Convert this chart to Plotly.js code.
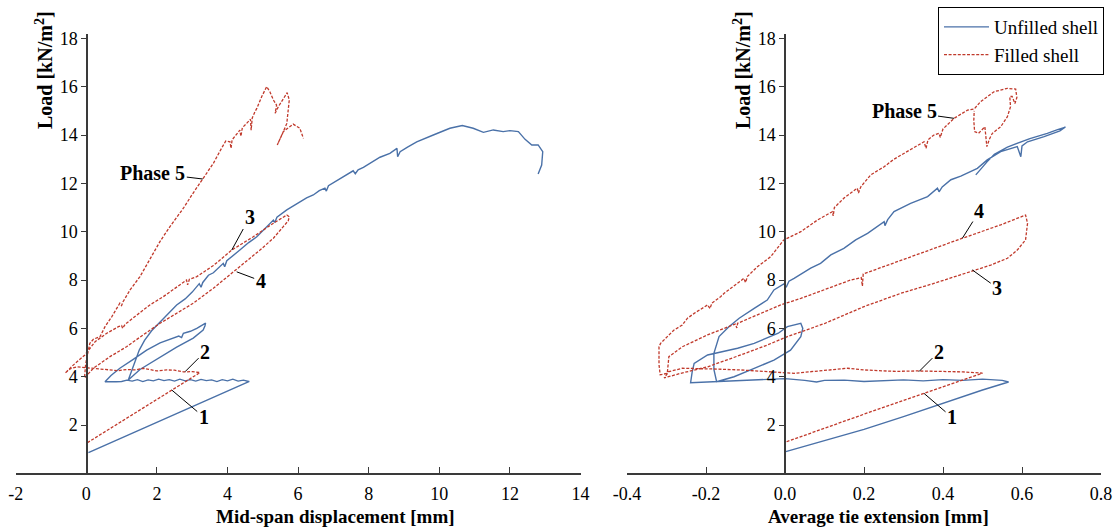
<!DOCTYPE html>
<html><head><meta charset="utf-8">
<script src="https://cdn.plot.ly/plotly-3.0.1.min.js"></script>
<style>html,body{margin:0;padding:0;background:#fff}#chart{width:1115px;height:529px}</style>
</head><body><div id="chart"></div><script>
// ---------- Left panel: Load vs mid-span displacement ----------
const dispUnfilledX = [].concat(
  [0.06,1.0,2.0,3.0,4.0,4.62],
  [4.6,4.45,4.3,4.15,4.0,3.85,3.7,3.55,3.4,3.25,3.1,2.95,2.8,2.65,2.5,2.35,2.2,2.05,1.9,1.75,1.6,1.45,1.3,1.15,1.0,0.85,0.7,0.53],
  [0.7,0.95,1.33,1.71,2.09,2.4,2.62,2.7,2.75,2.95,3.13,3.38],
  [3.36,3.31,3.03,2.56,1.99,1.52,1.19],
  [1.25,1.38,1.5,1.65,1.85,2.05,2.3,2.56,2.8,3.0,3.2,3.25,3.3,3.46,3.6,3.88,3.92,3.98,4.35,4.6,4.83,5.1,5.3,5.34,5.4,5.68,6.0,6.24,6.43,6.6,6.76,6.8,6.86,7.19,7.56,7.62,7.7,7.85,8.1,8.32,8.6,8.8,8.82,8.89,9.1,9.36,9.83,10.3,10.65,10.96,11.25,11.53,11.81,12.0,12.24,12.43,12.62,12.8,12.93,12.92,12.9,12.8]
);
const dispUnfilledY = [].concat(
  [0.86,1.47,2.11,2.76,3.41,3.81],
  [3.8,3.86,3.82,3.9,3.83,3.88,3.8,3.87,3.84,3.89,3.82,3.88,3.83,3.9,3.82,3.88,3.84,3.9,3.83,3.87,3.8,3.88,3.82,3.86,3.8,3.79,3.8,3.79],
  [4.05,4.35,4.72,5.1,5.4,5.58,5.68,5.62,5.8,5.88,6.0,6.22],
  [6.1,5.93,5.6,5.22,4.72,4.3,3.86],
  [4.1,4.69,5.1,5.5,5.9,6.2,6.6,6.97,7.22,7.5,7.85,7.7,7.9,8.2,8.3,8.69,8.55,8.8,9.24,9.55,9.79,10.2,10.48,10.38,10.6,10.9,11.2,11.4,11.52,11.7,11.8,11.68,11.9,12.2,12.52,12.4,12.56,12.66,12.9,13.08,13.24,13.45,13.1,13.31,13.5,13.72,14.0,14.28,14.39,14.28,14.11,14.21,14.14,14.18,14.14,13.82,13.59,13.59,13.31,13.0,12.76,12.39]
);
const dispFilledX = [].concat(
  [0.03,1.0,2.0,3.22],
  [3.0,2.75,2.5,2.28,2.0,1.8,1.61,1.4,1.15,0.9,0.67,0.45,0.2,0.0,-0.27,-0.45,-0.56,-0.6],
  [-0.37,-0.04,0.25,0.58,0.91,1.0,1.03,1.1,1.43,1.8,2.18,2.56,2.84,2.87,2.92,3.13,3.41,3.6,4.12,4.73,5.3,5.68],
  [5.75,5.72,5.58,5.3,4.92,4.35,3.6,3.03,2.56,2.09,1.61,1.14,0.67,0.2,-0.05],
  [-0.02,0.03,0.1,0.2,0.39,0.53,0.72,0.95,1.0,1.04,1.24,1.52,1.8,2.09,2.37,2.75,2.99,3.22,3.41,3.6,3.83,3.95,4.07,4.1,4.13,4.35,4.38,4.42,4.54,4.65,4.67,4.7,4.78,4.83,4.97,5.11,5.2,5.3,5.39,5.35,5.44,5.58,5.69,5.75,5.72,5.68,5.54,5.41,5.58,5.86,6.05,6.15]
);
const dispFilledY = [].concat(
  [1.27,2.15,3.06,4.17],
  [4.21,4.2,4.27,4.28,4.24,4.3,4.35,4.28,4.3,4.25,4.28,4.3,4.35,4.38,4.41,4.33,4.21,4.15],
  [4.48,4.9,5.45,5.8,6.07,6.12,6.0,6.17,6.55,6.97,7.31,7.72,8.0,7.8,8.03,8.14,8.41,8.6,9.24,9.79,10.35,10.69],
  [10.62,10.45,10.21,9.73,9.24,8.55,7.66,7.04,6.62,6.21,5.73,5.24,4.83,4.35,3.95],
  [4.5,4.9,5.38,5.55,5.66,6.07,6.48,7.04,6.95,7.1,7.59,8.14,8.83,9.6,10.21,10.97,11.52,12.0,12.41,12.83,13.45,13.75,13.72,13.45,13.8,14.2,13.95,14.3,14.48,14.65,14.2,14.7,14.97,15.1,15.59,16.0,15.79,15.45,15.24,14.9,15.17,15.52,15.75,15.45,14.9,14.48,14.0,13.59,14.14,14.45,14.28,13.86]
);

// ---------- Right panel: Load vs average tie extension ----------
const tieUnfilledX = [].concat(
  [0.002,0.1,0.2,0.3,0.4,0.5,0.566],
  [0.55,0.5,0.45,0.4,0.35,0.3,0.25,0.2,0.15,0.1,0.08,0.05,0.0,-0.05,-0.1,-0.15,-0.173,-0.2,-0.239],
  [-0.235,-0.23,-0.196,-0.15,-0.12,-0.078,-0.036,-0.017,0.006,0.04],
  [0.045,0.04,0.014,-0.028,-0.087,-0.129,-0.173],
  [-0.18,-0.18,-0.167,-0.142,-0.116,-0.078,-0.06,-0.045,-0.028,-0.003,0.003,0.01,0.023,0.065,0.09,0.116,0.149,0.179,0.209,0.251,0.253,0.26,0.276,0.318,0.361,0.386,0.39,0.398,0.42,0.445,0.487,0.512,0.546,0.588,0.597,0.6,0.614,0.656,0.696,0.71],
  [0.69,0.664,0.62,0.563,0.53,0.512,0.483]
);
const tieUnfilledY = [].concat(
  [0.9,1.35,1.82,2.35,2.9,3.45,3.78],
  [3.85,3.9,3.85,3.88,3.83,3.87,3.84,3.8,3.86,3.85,3.78,3.85,3.92,3.88,3.85,3.83,3.79,3.78,3.75],
  [4.2,4.55,4.9,5.08,5.18,5.38,5.66,5.8,6.07,6.21],
  [6.0,5.66,5.1,4.69,4.28,4.0,3.79],
  [4.3,4.97,5.66,6.07,6.42,6.83,7.0,7.17,7.59,7.84,7.7,7.95,8.07,8.49,8.69,9.04,9.31,9.66,9.93,10.41,10.25,10.5,10.83,11.17,11.45,11.8,11.65,11.85,12.15,12.3,12.62,12.97,13.31,13.52,13.1,13.55,13.72,13.93,14.17,14.33],
  [14.22,14.07,13.85,13.5,13.2,12.9,12.35]
);
const tieFilledX = [].concat(
  [0.004,0.1,0.2,0.3,0.4,0.5],
  [0.45,0.4,0.335,0.28,0.2,0.158,0.12,0.06,0.023,-0.03,-0.08,-0.112,-0.18,-0.26,-0.294,-0.306],
  [-0.264,-0.196,-0.112,-0.045,0.006,0.04,0.1,0.2,0.293,0.377,0.479,0.521,0.563,0.588,0.609,0.614,0.609],
  [0.546,0.449,0.377,0.268,0.198,0.196,0.193,0.166,0.04,-0.011,-0.07,-0.12,-0.122,-0.126,-0.196,-0.26,-0.294,-0.298],
  [-0.316,-0.319,-0.319,-0.315,-0.298,-0.281,-0.26,-0.247,-0.23,-0.196,-0.19,-0.185,-0.163,-0.154,-0.104,-0.1,-0.095,-0.07,-0.036,-0.003,0.04,0.082,0.12,0.122,0.125,0.15,0.183,0.186,0.192,0.217,0.251,0.276,0.318,0.352,0.357,0.362,0.377,0.39,0.393,0.4,0.428,0.462],
  [0.479,0.495,0.529,0.563,0.584,0.587,0.582,0.575,0.569,0.571,0.563,0.546,0.525,0.518,0.511,0.509,0.506,0.49,0.48,0.478,0.479]
);
const tieFilledY = [].concat(
  [1.31,1.88,2.45,3.02,3.59,4.15],
  [4.2,4.22,4.24,4.22,4.28,4.35,4.3,4.2,4.14,4.2,4.25,4.28,4.32,4.35,4.21,3.95],
  [4.14,4.41,4.9,5.31,5.66,5.86,6.2,6.9,7.45,7.86,8.42,8.62,8.9,9.24,9.66,10.35,10.69],
  [10.28,9.73,9.31,8.69,8.25,7.75,8.1,8.0,7.24,6.97,6.55,6.21,6.02,6.18,5.73,5.24,4.83,4.14],
  [4.08,4.5,5.24,5.38,5.66,5.93,6.14,6.42,6.62,6.97,6.82,7.05,7.31,7.45,8.07,7.9,8.15,8.55,8.97,9.66,10.0,10.48,10.83,10.65,11.0,11.4,11.8,11.6,11.86,12.35,12.69,13.0,13.4,13.72,13.45,13.8,14.0,14.07,13.9,14.25,14.69,15.03],
  [15.08,15.38,15.79,15.93,15.9,15.55,15.3,15.6,15.59,15.17,14.76,14.34,14.07,13.85,13.52,13.9,14.34,14.07,14.14,14.6,15.0]
);

// ---------- Ticks and labels ----------
const dispTickVals = [-2,0,2,4,6,8,10,12,14];
const dispTickText = ['-2','0','2','4','6','8','10','12','14'];
const tieTickVals = [-0.4,-0.2,0,0.2,0.4,0.6,0.8];
const tieTickText = ['-0.4','-0.2','0.0','0.2','0.4','0.6','0.8'];
const loadTickVals = [2,4,6,8,10,12,14,16,18];
const loadTickText = ['2','4','6','8','10','12','14','16','18'];
const seriesNames = ['Unfilled shell','Filled shell'];
const xTitles = ['Mid-span displacement [mm]','Average tie extension [mm]'];
const yTitle = 'Load [kN/m<sup>2</sup>]';

// ---------- Styling ----------
const FONT = 'Liberation Serif, Times New Roman, serif';
const BLUE = '#4a71a8';
const RED = '#c0392b';
const AXC = '#3a3a3a';
const W = 1115, H = 529;
const px = v => v / W, py = v => 1 - v / H;

const blueLine = {color: BLUE, width: 1.4};
const redLine = {color: RED, width: 1.3, dash: '3px,1.6px'};

const traces = [
  {x: dispUnfilledX, y: dispUnfilledY, mode: 'lines', name: seriesNames[0], line: blueLine, xaxis: 'x', yaxis: 'y'},
  {x: dispFilledX, y: dispFilledY, mode: 'lines', name: seriesNames[1], line: redLine, xaxis: 'x', yaxis: 'y'},
  {x: tieUnfilledX, y: tieUnfilledY, mode: 'lines', name: seriesNames[0], line: blueLine, xaxis: 'x2', yaxis: 'y2', showlegend: false},
  {x: tieFilledX, y: tieFilledY, mode: 'lines', name: seriesNames[1], line: redLine, xaxis: 'x2', yaxis: 'y2', showlegend: false}
];

const tickFont = {family: FONT, size: 18, color: '#000'};
function xAx(domain, range, vals, text, anchor) {
  return {domain, range, anchor, tickmode: 'array', tickvals: vals, ticktext: text,
    ticks: 'inside', ticklen: 6, tickwidth: 1, tickcolor: AXC, showline: true, linecolor: AXC, linewidth: 1.2,
    showgrid: false, zeroline: false, tickfont: tickFont, ticklabelstandoff: 4, automargin: false, fixedrange: true};
}
function yAx(position) {
  return {domain: [py(473.4), py(33.5)], range: [0, 18.2], anchor: 'free', position,
    tickmode: 'array', tickvals: loadTickVals, ticktext: loadTickText,
    ticks: 'outside', ticklen: 5, tickwidth: 1, tickcolor: AXC, showline: true, linecolor: AXC, linewidth: 1.2,
    showgrid: false, zeroline: false, tickfont: tickFont, automargin: false, fixedrange: true};
}

const labelFont = {family: FONT, size: 20, color: '#000'};
function lab(text, x, y, ax, ay, xr, yr) {
  return {text: '<b>' + text + '</b>', x, y, xref: xr, yref: yr, ax, ay, showarrow: true,
    arrowhead: 0, arrowwidth: 1, arrowcolor: '#000', font: labelFont, standoff: 0, startstandoff: 0};
}
const titleFont = {family: FONT, size: 19, color: '#000'};
const annotations = [
  lab('Phase 5', 3.3, 12.18, -50, -6, 'x', 'y'),
  lab('3', 4.12, 9.24, 18, -33, 'x', 'y'),
  lab('4', 4.26, 8.34, 24, 9, 'x', 'y'),
  lab('2', 2.8, 4.21, 20, -20, 'x', 'y'),
  lab('1', 2.42, 3.45, 32, 27, 'x', 'y'),
  lab('Phase 5', 0.428, 14.69, -50, -7, 'x2', 'y2'),
  lab('4', 0.449, 9.73, 17, -27, 'x2', 'y2'),
  lab('3', 0.474, 8.42, 25, 18, 'x2', 'y2'),
  lab('2', 0.339, 4.21, 20, -20, 'x2', 'y2'),
  lab('1', 0.352, 3.31, 28, 24, 'x2', 'y2'),
  {text: '<b>' + yTitle + '</b>', xref: 'paper', yref: 'paper', x: px(44), y: py(70), textangle: -90,
    showarrow: false, font: {family: FONT, size: 20, color: '#000'}, xanchor: 'center', yanchor: 'middle'},
  {text: '<b>' + yTitle + '</b>', xref: 'paper', yref: 'paper', x: px(742), y: py(70), textangle: -90,
    showarrow: false, font: {family: FONT, size: 20, color: '#000'}, xanchor: 'center', yanchor: 'middle'},
  {text: '<b>' + xTitles[0] + '</b>', xref: 'paper', yref: 'paper', x: px(214), y: py(516),
    showarrow: false, font: titleFont, xanchor: 'left', yanchor: 'middle'},
  {text: '<b>' + xTitles[1] + '</b>', xref: 'paper', yref: 'paper', x: px(766), y: py(516),
    showarrow: false, font: titleFont, xanchor: 'left', yanchor: 'middle'}
];

const layout = {
  width: W, height: H, margin: {l: 0, r: 0, t: 0, b: 0},
  paper_bgcolor: '#fff', plot_bgcolor: 'rgba(0,0,0,0)',
  showlegend: true,
  legend: {x: px(1104), xanchor: 'right', y: py(7), yanchor: 'top', bgcolor: '#fff',
    bordercolor: '#000', borderwidth: 1, itemwidth: 45, font: {family: FONT, size: 19, color: '#000'}},
  xaxis: xAx([px(15.7), px(580.5)], [-2, 14], dispTickVals, dispTickText, 'y'),
  yaxis: yAx(px(86.3)),
  xaxis2: xAx([px(627), px(1101)], [-0.4, 0.8], tieTickVals, tieTickText, 'y2'),
  yaxis2: yAx(px(784.3)),
  annotations
};

Plotly.newPlot('chart', traces, layout, {displayModeBar: false, staticPlot: true});
</script></body></html>
